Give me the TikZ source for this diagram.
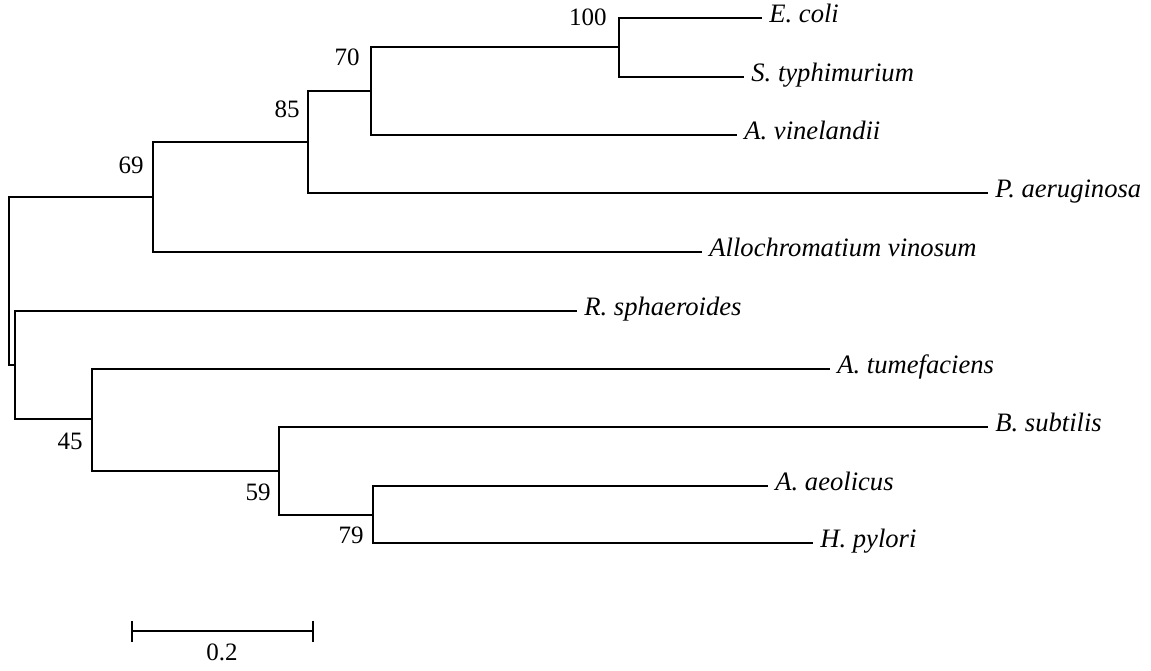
\documentclass[tikz,border=0pt]{standalone}
\usepackage{fontspec}
\setmainfont{Liberation Serif}
\usetikzlibrary{arrows.meta}

\begin{document}
\begin{tikzpicture}[x=0.5pt, y=-0.5pt,
    branch/.style={line width=1.2pt},
    taxon/.style={anchor=west, inner xsep=3.5pt, inner ysep=0pt, text height=7pt, text depth=2.5pt,
        font=\fontsize{13.3}{16}\selectfont\itshape},
    support/.style={anchor=east, inner sep=0pt, font=\fontsize{12.5}{15}\selectfont}]
\useasboundingbox (0,0) rectangle (1151,670);

% inner nodes of the tree
\coordinate (root) at (9,281);
\coordinate (c69) at (153,197);
\coordinate (c85) at (308,142);
\coordinate (c70) at (371,91);
\coordinate (c100) at (619,47);
\coordinate (cLow) at (15,365);
\coordinate (c45) at (92,419);
\coordinate (c59) at (279,471);
\coordinate (c79) at (373,515);

% taxa
\node[taxon] (ecoli) at (762,18) {E. coli};
\node[taxon] (styph) at (744,77) {S. typhimurium};
\node[taxon] (avine) at (737,135) {A. vinelandii};
\node[taxon] (paeru) at (988,193) {P. aeruginosa};
\node[taxon] (alloc) at (702,252) {Allochromatium vinosum};
\node[taxon] (rspha) at (577,311) {R. sphaeroides};
\node[taxon] (atume) at (830,369) {A. tumefaciens};
\node[taxon] (bsubt) at (988,427) {B. subtilis};
\node[taxon] (aaeol) at (768,486) {A. aeolicus};
\node[taxon] (hpylo) at (813,543) {H. pylori};

% branches
\draw[branch] (root) |- (c69) (root) |- (cLow);
\draw[branch] (c69) |- (c85) (c69) |- (alloc.west);
\draw[branch] (c85) |- (c70) (c85) |- (paeru.west);
\draw[branch] (c70) |- (c100) (c70) |- (avine.west);
\draw[branch] (c100) |- (ecoli.west) (c100) |- (styph.west);
\draw[branch] (cLow) |- (rspha.west) (cLow) |- (c45);
\draw[branch] (c45) |- (atume.west) (c45) |- (c59);
\draw[branch] (c59) |- (bsubt.west) (c59) |- (c79);
\draw[branch] (c79) |- (aaeol.west) (c79) |- (hpylo.west);

% bootstrap values
\node[support] (b100) at (607,17) {100};
\node[support] (b70) at (360,57) {70};
\node[support] (b85) at (300,109) {85};
\node[support] (b69) at (144,165) {69};
\node[support] (b45) at (83,441) {45};
\node[support] (b59) at (271,492) {59};
\node[support] (b79) at (364,535) {79};

% scale bar
\coordinate (barL) at (131,631);
\coordinate (barR) at (314,631);
\draw[branch, {Bar[width=10.5pt]}-{Bar[width=10.5pt]}] (barL) -- (barR);
\node[anchor=north, inner sep=0pt, font=\fontsize{12.5}{15}\selectfont] (barText) at (222,643) {0.2};
\end{tikzpicture}
\end{document}
